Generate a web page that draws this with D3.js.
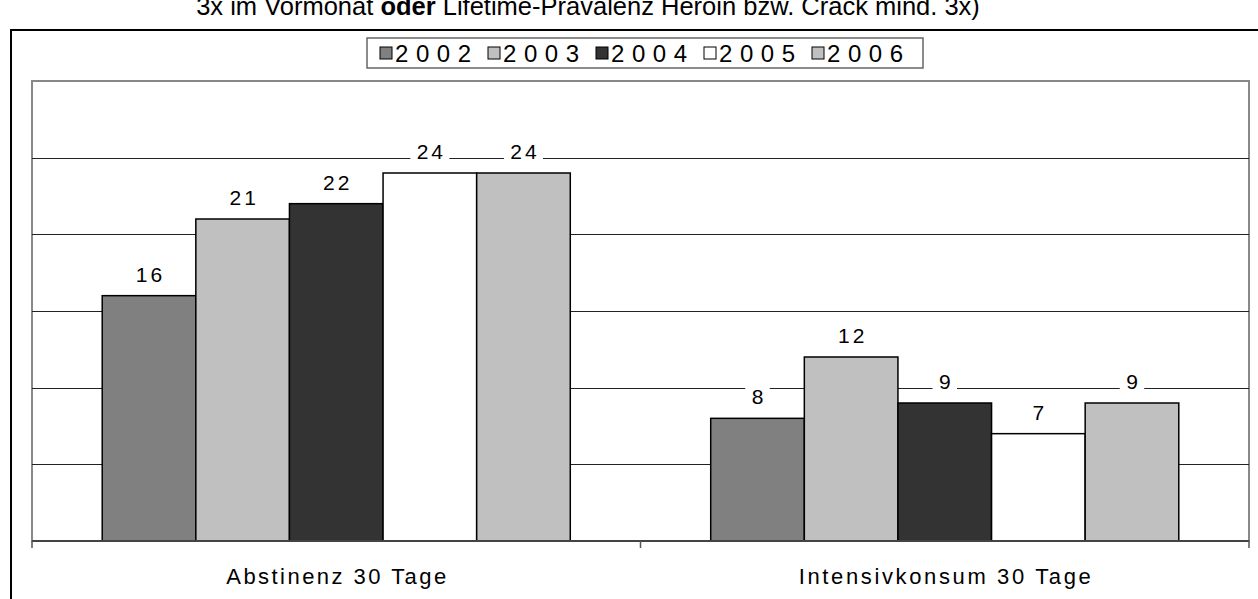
<!DOCTYPE html>
<html>
<head>
<meta charset="utf-8">
<script src="https://cdn.jsdelivr.net/npm/d3@7"></script>
<style>
  html, body { margin: 0; padding: 0; background: #fff; }
  svg { display: block; font-family: "Liberation Sans", Arial, sans-serif; }
</style>
</head>
<body>
<svg id="chart" width="1258" height="599"></svg>
<script>
const categories = ["Abstinenz 30 Tage", "Intensivkonsum 30 Tage"];
const years = ["2002", "2003", "2004", "2005", "2006"];
const v2002 = [16, 8];
const v2003 = [21, 12];
const v2004 = [22, 9];
const v2005 = [24, 7];
const v2006 = [24, 9];
const seriesValues = [v2002, v2003, v2004, v2005, v2006];
const yTicks = [0, 5, 10, 15, 20, 25, 30];
const colors = ["#808080", "#c0c0c0", "#333333", "#ffffff", "#c0c0c0"];

const svg = d3.select("#chart");

// title (partially cut off at the top in the original)
const title = svg.append("text").attr("x", 588).attr("y", 15)
  .attr("text-anchor", "middle").attr("font-size", 25.5).attr("fill", "#000");
title.append("tspan").text("3x im Vormonat ");
title.append("tspan").attr("font-weight", "bold").text("oder");
title.append("tspan").text(" Lifetime-Prävalenz Heroin bzw. Crack mind. 3x)");

// outer chart border
svg.append("rect").attr("x", 11).attr("y", 30).attr("width", 1300).attr("height", 650)
  .attr("fill", "none").attr("stroke", "#000").attr("stroke-width", 2);

const L = 32, R = 1249, T = 81, B = 541;
const x0 = d3.scaleBand().domain(categories).range([L, R]).padding(0);
const x1 = d3.scaleBand().domain(years).range([0, x0.bandwidth()]).paddingInner(0).paddingOuter(0.75);
const y = d3.scaleLinear().domain([0, 30]).range([B, T]);

// plot frame
svg.append("rect").attr("x", L).attr("y", T).attr("width", R - L).attr("height", B - T)
  .attr("fill", "#fff").attr("stroke", "#888").attr("stroke-width", 2);

// gridlines
svg.append("g").selectAll("line").data(yTicks.filter(d => d > 0 && d < 30)).join("line")
  .attr("x1", L).attr("x2", R).attr("y1", d => Math.round(y(d)) + 0.5).attr("y2", d => Math.round(y(d)) + 0.5)
  .attr("stroke", "#222").attr("stroke-width", 1);

const flat = [];
categories.forEach((c, ci) => years.forEach((yr, si) => flat.push({c, yr, si, v: seriesValues[si][ci]})));

// bars
svg.append("g").selectAll("rect").data(flat).join("rect")
  .attr("x", d => x0(d.c) + x1(d.yr))
  .attr("y", d => y(d.v))
  .attr("width", x1.bandwidth())
  .attr("height", d => B - y(d.v))
  .attr("fill", d => colors[d.si])
  .attr("stroke", "#000").attr("stroke-width", 1.5);

// data labels with white background
const lg = svg.append("g");
flat.forEach(d => {
  const cx = x0(d.c) + x1(d.yr) + x1.bandwidth() / 2;
  const by = y(d.v) - 14;
  const txt = String(d.v);
  const w = txt.length * 14.5 + 10;
  lg.append("rect").attr("x", cx - w / 2).attr("y", by - 18).attr("width", w).attr("height", 23).attr("fill", "#fff");
  lg.append("text").attr("x", cx + 1.5).attr("y", by).attr("text-anchor", "middle")
    .attr("font-size", 21).attr("letter-spacing", 3).attr("fill", "#000").text(txt);
});

// x axis line and ticks
svg.append("line").attr("x1", L).attr("x2", R).attr("y1", B).attr("y2", B)
  .attr("stroke", "#444").attr("stroke-width", 2);
const tickXs = [L, x0(categories[1]), R];
svg.append("g").selectAll("line").data(tickXs).join("line")
  .attr("x1", d => d).attr("x2", d => d).attr("y1", B).attr("y2", B + 7)
  .attr("stroke", "#555").attr("stroke-width", 1.5);

// category labels
const catW = [220, 292];
svg.append("g").selectAll("text").data(categories).join("text")
  .attr("x", d => x0(d) + x0.bandwidth() / 2).attr("y", 584)
  .attr("text-anchor", "middle").attr("font-size", 22)
  .attr("textLength", (d, i) => catW[i]).attr("lengthAdjust", "spacing")
  .attr("fill", "#000").text(d => d);

// legend
const legX = 367, legY = 38, legW = 556, legH = 30;
svg.append("rect").attr("x", legX).attr("y", legY).attr("width", legW).attr("height", legH)
  .attr("fill", "#fff").attr("stroke", "#666").attr("stroke-width", 1.5);
const itemX = d3.scalePoint().domain(years).range([380, 812]);
const li = svg.append("g").selectAll("g").data(years).join("g")
  .attr("transform", d => `translate(${itemX(d)},${legY + legH / 2})`);
li.append("rect").attr("x", 0).attr("y", -6).attr("width", 12).attr("height", 12)
  .attr("fill", (d, i) => colors[i]).attr("stroke", "#000").attr("stroke-width", 1);
li.append("text").attr("x", 15).attr("y", 8.5).attr("font-size", 24)
  .attr("textLength", 76).attr("lengthAdjust", "spacing")
  .attr("fill", "#000").text(d => d);
</script>
</body>
</html>
